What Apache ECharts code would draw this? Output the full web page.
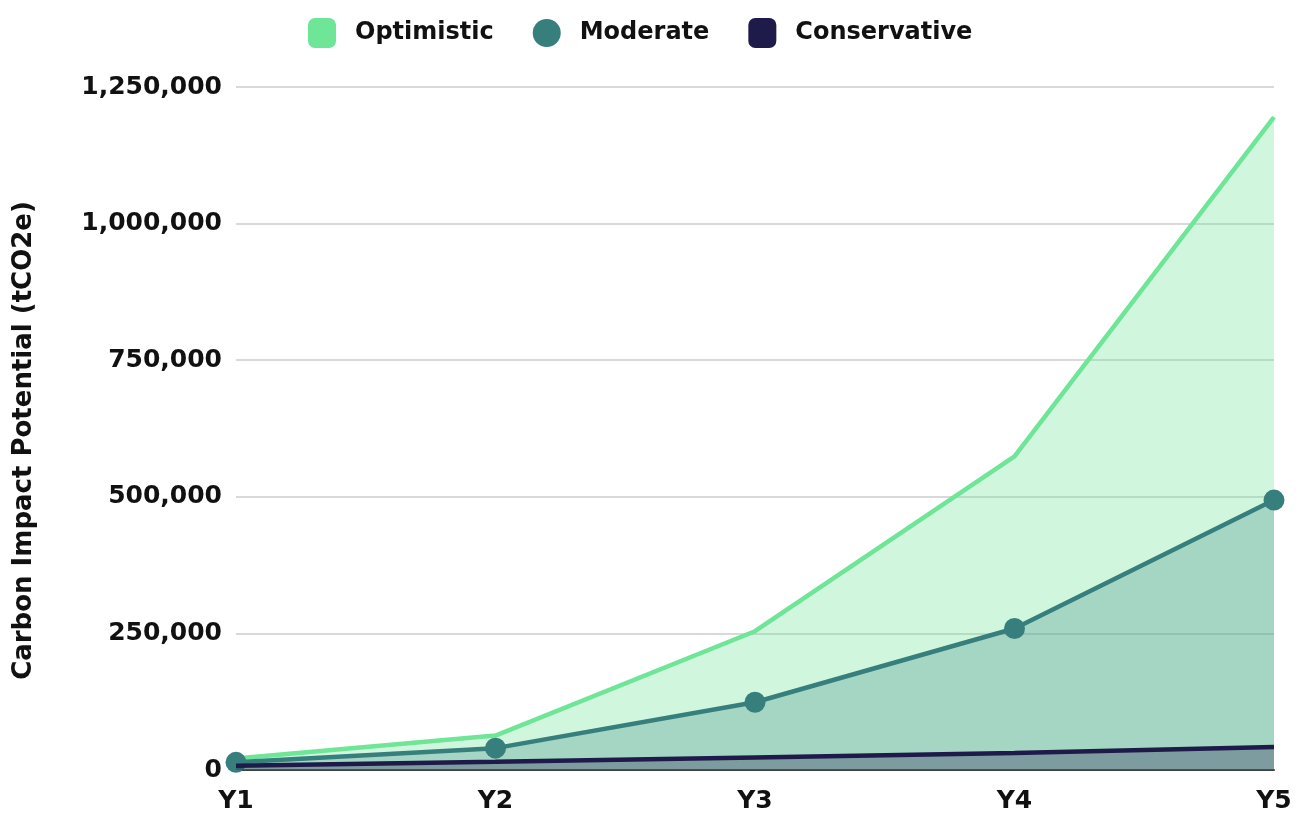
<!DOCTYPE html>
<html>
<head>
<meta charset="utf-8">
<title>Carbon Impact Potential</title>
<script src="https://cdn.jsdelivr.net/npm/echarts@6/dist/echarts.min.js"></script>
<style>
  html, body { margin: 0; padding: 0; background: #ffffff; }
  #chart { width: 1309px; height: 816px; }
</style>
</head>
<body>
<div id="chart"></div>
<script>
// Projected carbon impact by year under three adoption scenarios (tCO2e)
const years = ['Y1', 'Y2', 'Y3', 'Y4', 'Y5'];
const optimistic = [21000, 63000, 254000, 574000, 1195000];
const moderate = [14000, 40000, 124000, 259000, 494000];
const conservative = [8000, 15000, 23000, 31000, 42000];
const yTicks = [0, 250000, 500000, 750000, 1000000, 1250000];

const FONT = 'DejaVu Sans';
const colors = { optimistic: '#6ee597', moderate: '#367f7d', conservative: '#1e1b4b' };

const chart = echarts.init(document.getElementById('chart'), null, { renderer: 'canvas' });

const fmt = v => v.toLocaleString('en-US');

chart.setOption({
  animation: false,
  backgroundColor: '#ffffff',
  textStyle: { fontFamily: FONT },
  legend: {
    top: 13,
    left: 303,
    itemWidth: 28,
    itemHeight: 30,
    itemGap: 39,
    textStyle: { fontFamily: FONT, fontWeight: 'bold', fontSize: 24, color: '#111111', padding: [0, 0, 0, 14] },
    data: [
      { name: 'Optimistic', icon: 'roundRect' },
      { name: 'Moderate', icon: 'circle' },
      { name: 'Conservative', icon: 'roundRect' }
    ]
  },
  grid: { left: 236, right: 35, top: 87, bottom: 46, containLabel: false },
  xAxis: {
    type: 'category',
    data: years,
    boundaryGap: false,
    axisLine: { lineStyle: { color: '#3a3f3f', width: 2 } },
    axisTick: { show: false },
    axisLabel: { fontFamily: FONT, fontWeight: 'bold', fontSize: 25, color: '#111111', margin: 19 },
    splitLine: { show: false }
  },
  yAxis: {
    type: 'value',
    min: yTicks[0],
    max: yTicks[yTicks.length - 1],
    interval: yTicks[1] - yTicks[0],
    name: 'Carbon Impact Potential (tCO2e)',
    nameLocation: 'middle',
    nameGap: 199,
    nameTextStyle: { fontFamily: FONT, fontWeight: 'bold', fontSize: 26, color: '#111111', padding: [0, 24, 0, 0] },
    axisLine: { show: false },
    axisTick: { show: false },
    axisLabel: { fontFamily: FONT, fontWeight: 'bold', fontSize: 25, color: '#111111', margin: 14, formatter: fmt },
    splitLine: { lineStyle: { color: '#cccccc', width: 1.5 } }
  },
  series: [
    {
      name: 'Optimistic',
      type: 'line',
      data: optimistic,
      color: colors.optimistic,
      showSymbol: false,
      symbol: 'none',
      lineStyle: { width: 4.5, color: colors.optimistic },
      areaStyle: { color: colors.optimistic, opacity: 0.32 },
      z: 2
    },
    {
      name: 'Moderate',
      type: 'line',
      data: moderate,
      color: colors.moderate,
      symbol: 'circle',
      symbolSize: 21,
      lineStyle: { width: 4.5, color: colors.moderate },
      itemStyle: { color: colors.moderate },
      areaStyle: { color: colors.moderate, opacity: 0.28 },
      z: 3
    },
    {
      name: 'Conservative',
      type: 'line',
      data: conservative,
      color: colors.conservative,
      showSymbol: false,
      symbol: 'none',
      lineStyle: { width: 4.5, color: colors.conservative },
      areaStyle: { color: colors.conservative, opacity: 0.3 },
      z: 4
    }
  ]
});
</script>
</body>
</html>
